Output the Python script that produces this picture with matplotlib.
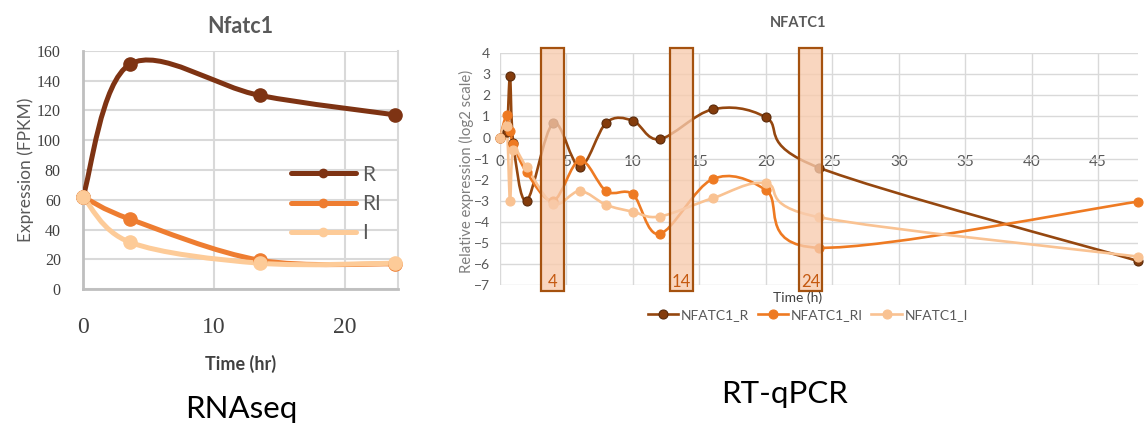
import numpy as np
import matplotlib
matplotlib.use("Agg")
import matplotlib.pyplot as plt
from matplotlib.path import Path
from matplotlib.patches import PathPatch, Rectangle
from matplotlib.lines import Line2D

# ---------------- data ----------------
# RNAseq (left)
rna_time = [0, 3.6, 13.5, 23.8]
rna_R = [62, 151, 130, 117]
rna_RI = [62, 47, 19.5, 17]
rna_I = [62, 31.5, 17.5, 17.5]
rna_labels = ["R", "RI", "I"]

# RT-qPCR (right)
qpcr_time = [0, 0.5, 0.75, 1, 2, 4, 6, 8, 10, 12, 16, 20, 24, 48]
qpcr_R = [0, 0.25, 2.9, -0.25, -3.0, 0.68, -1.38, 0.71, 0.8, -0.08, 1.34, 0.96, -1.43, -5.86]
qpcr_RI = [0, 1.07, 0.3, -0.3, -1.65, -3.0, -1.07, -2.55, -2.7, -4.58, -1.97, -2.49, -5.23, -3.04]
qpcr_I = [0, 0.55, -3.0, -0.6, -1.41, -3.15, -2.54, -3.2, -3.52, -3.75, -2.88, -2.17, -3.78, -5.65]
qpcr_labels = ["NFATC1_R", "NFATC1_RI", "NFATC1_I"]
highlight_times = [4, 14, 24]
highlight_spans = [(3.06, 4.81), (12.79, 14.54), (22.5, 24.2)]


def smooth_path(x, y):
    pts = np.column_stack([x, y]).astype(float)
    n = len(pts)
    verts = [pts[0]]
    codes = [Path.MOVETO]
    for i in range(n - 1):
        p0 = pts[i - 1] if i > 0 else pts[i]
        p1 = pts[i]
        p2 = pts[i + 1]
        p3 = pts[i + 2] if i + 2 < n else pts[i + 1]
        c1 = p1 + (p2 - p0) / 6.0
        c2 = p2 - (p3 - p1) / 6.0
        verts += [c1, c2, p2]
        codes += [Path.CURVE4] * 3
    return Path(verts, codes)


W, H = 1146, 424
fig = plt.figure(figsize=(W / 100, H / 100), dpi=100)
SANS = ["Lato", "DejaVu Sans"]
SERIF = ["Liberation Serif", "DejaVu Serif"]
GRAY = "#595959"

# ---------------- left: RNAseq ----------------
axL = fig.add_axes([83 / W, 1 - 289.3 / H, (398.5 - 83) / W, (289.3 - 50.7) / H])
axL.set_xlim(0, 24.08)
axL.set_ylim(0, 160)
axL.set_yticks(np.arange(0, 161, 20))
axL.set_xticks([0, 10, 20])
axL.grid(True, color="#d9d9d9", lw=1.5)
axL.set_axisbelow(True)
axL.spines["top"].set_visible(False)
axL.spines["right"].set_color("#d9d9d9")
axL.spines["right"].set_linewidth(1.5)
for s in ["left", "bottom"]:
    axL.spines[s].set_color("#bfbfbf")
    axL.spines[s].set_linewidth(2)
axL.tick_params(axis="both", length=0)
axL.tick_params(axis="y", pad=16, labelsize=11.5, labelcolor="#404040")
axL.tick_params(axis="x", pad=20, labelsize=17, labelcolor="#404040")
for lab in axL.get_yticklabels() + axL.get_xticklabels():
    lab.set_family(SERIF)

colsL = ["#7e3313", "#ee7d31", "#fdcb98"]
for yv, c in zip([rna_R, rna_RI, rna_I], colsL):
    axL.add_patch(PathPatch(smooth_path(rna_time, yv), fill=False, ec=c, lw=3.6,
                            capstyle="round", zorder=3))
    axL.plot(rna_time, yv, ls="none", marker="o", ms=9.5, color=c, zorder=4, clip_on=False)

axL.set_title("Nfatc1", fontsize=15.5, fontweight="bold", color=GRAY, family=SANS, pad=13)
axL.set_ylabel("Expression (FPKM)", fontsize=12.5, color=GRAY, family=SANS, labelpad=2)
axL.set_xlabel("Time (hr)", fontsize=13, fontweight="bold", color="#404040", family=SANS,
               labelpad=12)

hL = [Line2D([], [], color=c, lw=3.6, marker="o", ms=6, solid_capstyle="round") for c in colsL]
legL = axL.legend(hL, rna_labels, loc="center left", bbox_to_anchor=(291 / W, 1 - 204 / H),
                  bbox_transform=fig.transFigure, frameon=False, fontsize=15,
                  handlelength=3.1, handletextpad=0.3, labelspacing=0.45,
                  borderpad=0, borderaxespad=0)
for t in legL.get_texts():
    t.set_color(GRAY)
    t.set_family(SANS)

# ---------------- right: RT-qPCR ----------------
axR = fig.add_axes([500 / W, 1 - 285 / H, 638 / W, (285 - 53.3) / H])
axR.set_xlim(0, 48)
axR.set_ylim(-7, 4)
axR.set_yticks(np.arange(-7, 5, 1))
axR.set_xticks(np.arange(0, 46, 5))
axR.grid(True, color="#d9d9d9", lw=1.0)
axR.set_axisbelow(True)
for s in ["top", "right", "left"]:
    axR.spines[s].set_visible(False)
axR.spines["bottom"].set_position(("data", 0))
axR.spines["bottom"].set_visible(False)
axR.tick_params(axis="both", length=0)
axR.tick_params(axis="y", pad=7, labelsize=10, labelcolor=GRAY)
axR.tick_params(axis="x", pad=12.5, labelsize=11, labelcolor=GRAY)
for lab in axR.get_yticklabels() + axR.get_xticklabels():
    lab.set_family(SANS)

line_cols = ["#95470f", "#ee7a22", "#f9c292"]
mk_face = ["#843c0c", "#ee7a22", "#f9c292"]
mk_edge = ["#5a2a0a", "#ee7a22", "#f9c292"]
for yv, lc, mf, me in zip([qpcr_R, qpcr_RI, qpcr_I], line_cols, mk_face, mk_edge):
    axR.add_patch(PathPatch(smooth_path(qpcr_time, yv), fill=False, ec=lc, lw=1.9, zorder=3))
    axR.plot(qpcr_time, yv, ls="none", marker="o", ms=6.5, mfc=mf, mec=me, mew=0.8,
             zorder=4, clip_on=False)

for (x0, x1), lbl in zip(highlight_spans, highlight_times):
    axR.add_patch(Rectangle((x0, -7.27), x1 - x0, 4.25 + 7.27, fc="#f8cbad", alpha=0.78,
                            ec="none", zorder=5, clip_on=False))
    axR.add_patch(Rectangle((x0, -7.27), x1 - x0, 4.25 + 7.27, fc="none", ec="#a5520f",
                            lw=1.6, zorder=6, clip_on=False))
    axR.text((x0 + x1) / 2, -6.86, str(lbl), ha="center", va="center", fontsize=12,
             color="#c55a11", family=SANS, zorder=7)

fig.text(798 / W, 1 - 23 / H, "NFATC1", ha="center", va="center", fontsize=10.5,
         fontweight="bold", color=GRAY, family=SANS)
fig.text(466 / W, 1 - 171 / H, "Relative expression (log2 scale)", rotation=90,
         ha="center", va="center", fontsize=10.7, color="#7f7f7f", family=SANS)
fig.text(798 / W, 1 - 298 / H, "Time (h)", ha="center", va="center", fontsize=10,
         color="#404040", family=SANS)

hR = [Line2D([], [], color=lc, lw=1.9, marker="o", ms=6.5, mfc=mf, mec=me, mew=0.8)
      for lc, mf, me in zip(line_cols, mk_face, mk_edge)]
legR = fig.legend(hR, qpcr_labels, loc="center", bbox_to_anchor=(808 / W, 1 - 315 / H),
                  ncol=3, frameon=False, fontsize=10, handlelength=2.2, handletextpad=0.2,
                  columnspacing=0.6, borderpad=0, borderaxespad=0)
for t in legR.get_texts():
    t.set_color(GRAY)
    t.set_family(SANS)

# ---------------- captions ----------------
fig.text(241 / W, 1 - 418 / H, "RNAseq", ha="center", va="baseline", fontsize=22.5,
         color="black", family=SANS)
fig.text(785 / W, 1 - 403 / H, "RT-qPCR", ha="center", va="baseline", fontsize=22.5,
         color="black", family=SANS)

fig.savefig("out.png", dpi=100)
